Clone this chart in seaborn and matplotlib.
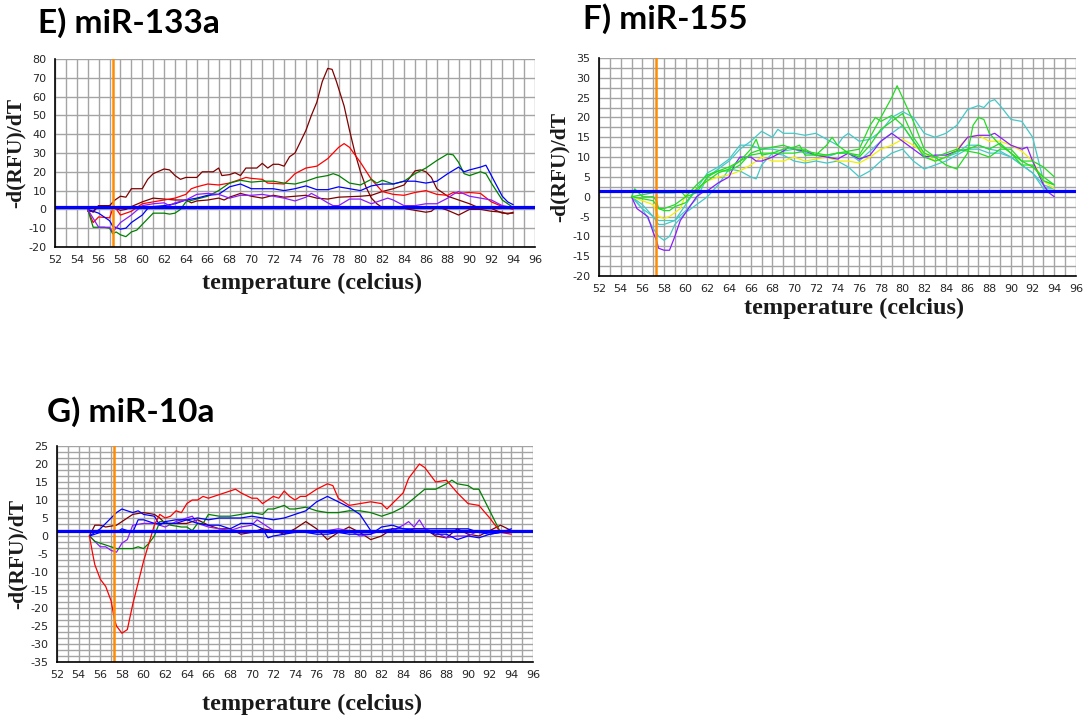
import numpy as np
import pandas as pd
import matplotlib
matplotlib.use("Agg")
import matplotlib.pyplot as plt
from matplotlib.ticker import MultipleLocator
import seaborn as sns

sns.set_style("white")
plt.rcParams["font.family"] = ["DejaVu Sans"]
plt.rcParams["axes.unicode_minus"] = False

TEMP_RANGE = (52, 96)
ANNEAL_TEMP = 57.3

# ---- miR-133a melt curves: (temperature, -d(RFU)/dT) ----
E_MAROON_A = [(55, 0), (55.5, -1.5), (56, 2), (57, 2), (57.5, 5), (58, 7), (58.5, 6.5), (59, 11), (60, 11),
              (60.5, 16), (61, 19), (62, 21.5), (62.5, 21), (63, 18), (63.5, 16), (64, 17), (65, 17), (65.5, 20),
              (66.5, 20), (67, 22), (67.3, 18), (68, 18.5), (68.5, 19.5), (69, 18), (69.5, 22), (70.5, 22),
              (71, 24.5), (71.5, 22), (72, 24), (72.5, 24), (73, 23), (73.5, 28), (74, 30), (75, 42), (75.5, 50),
              (76, 57), (76.5, 68), (77, 75), (77.4, 74.5), (77.8, 68), (78.5, 55), (79, 42), (79.5, 30),
              (80, 20), (80.5, 12), (81, 6), (81.5, 3), (82, 1), (83, 1), (83.5, 0.5), (84, 0.5), (85, -0.5),
              (86, -1.5), (86.5, -1), (87, 1.5), (88, -0.5), (89, -3), (90, 0), (91, 0), (92, -1), (93, -1.5),
              (93.5, -2.5), (94, -1.5)]
E_MAROON_B = [(55, -1), (55.5, -1), (56, 2), (57, 2), (57.5, 0.5), (58, -0.5), (58.5, 0), (59, 1.5), (60, 4),
              (60.5, 5), (61, 6), (62, 5.5), (63, 5), (64, 5), (64.5, 3.5), (65, 4.5), (66, 5), (67, 6),
              (67.5, 5), (68, 6.5), (69, 8.5), (70, 7), (71, 6), (72, 7.5), (73, 6.5), (74, 7), (75, 7.5),
              (76, 6), (77, 5.5), (78, 6.5), (80, 7), (81, 7.5), (82, 9.5), (83, 11), (84, 13), (85, 20.5),
              (85.5, 21), (86, 20), (86.5, 17), (87, 11), (88, 7), (89, 5), (90, 3), (91, 0.5), (92, 0.5),
              (93, -2), (94, -2)]
E_RED = [(55, 0), (55.5, -7), (56, -4), (57, -4.5), (57.4, 2), (58, -3), (59, -1), (60, 3), (61, 4), (62, 5),
         (63, 6), (64, 8), (64.5, 11), (65, 12), (66, 13.5), (67, 13), (68, 14), (69, 16), (69.5, 17),
         (70, 16.5), (71, 16), (71.5, 14), (73, 13.5), (73.5, 16), (74, 19), (75, 22), (76, 23), (77, 27),
         (78, 33), (78.5, 35), (79, 33), (80, 25), (81, 16), (82, 9.5), (83, 8), (84, 7.5), (85, 9), (86, 10),
         (86.5, 9), (87, 8), (88, 7.5), (88.5, 9), (89, 8.5), (90, 9), (91, 8.5), (92, 4), (93, 1.5), (94, 0)]
E_GREEN = [(55, 0), (55.5, -9.5), (56.5, -9.5), (57, -10), (57.3, -13), (57.6, -12), (58, -13.5), (58.5, -14.5),
           (59, -12), (59.5, -11), (60, -8), (60.5, -5), (61, -2), (62, -2), (62.5, -2.5), (63, -2), (63.5, 0),
           (64, 4), (65, 5.5), (66, 7), (67, 10), (68, 14), (69, 15.5), (70, 14.5), (71, 15), (72, 15),
           (73, 14), (74, 13.5), (75, 15), (76, 17), (77, 18), (77.5, 19), (78, 18), (79, 14), (80, 13),
           (80.5, 14.5), (81, 16), (81.5, 14), (82, 15.5), (83, 13.5), (84, 15), (85, 19), (86, 22), (87, 26),
           (88, 29.5), (88.5, 29), (89, 25), (89.5, 19), (90, 18), (91, 20), (91.5, 19), (92, 14), (93, 5),
           (94, 1)]
E_BLUE = [(55, 0), (56, -2), (57, -6), (57.3, -9), (58, -10.5), (58.5, -10), (59, -7), (60, -3), (60.5, 0.5),
          (61, 1.5), (62, 2), (63, 3), (64, 5), (65, 6), (66, 7.5), (67, 8), (68, 12), (69, 13.5), (70, 11),
          (72, 11), (73, 10), (74, 11), (75, 12.5), (76, 10.5), (77, 10.5), (78, 12), (79, 11), (80, 10),
          (81, 12.5), (82, 13.5), (83, 13.5), (84, 15), (85, 15), (86, 14), (87, 15), (88, 19), (89, 22.5),
          (89.5, 20), (90, 21), (91, 22.5), (91.5, 23.5), (92, 18), (93, 7), (93.5, 4), (94, 2.5)]
E_PURPLE = [(55, 0), (56, -9.5), (57, -9.5), (57.3, -12), (58, -7), (59, -3), (60, 2), (61, 3), (62, 3.5),
            (62.5, 2), (63, 3.5), (64, 5), (65, 8), (66, 8.5), (67, 8), (68, 6), (69, 7.5), (70, 7.5), (71, 8),
            (72, 7), (73, 6), (74, 4.5), (75, 6.5), (75.5, 8.5), (76, 7), (77, 3.5), (77.5, 2), (78, 2),
            (79, 5.5), (80, 5.5), (81, 3), (82, 5), (82.5, 6), (83, 5), (84, 2), (85, 2), (86, 3), (87, 3),
            (88, 6), (88.5, 8), (89, 9.5), (90, 7), (91, 6), (92, 5), (93, 2), (94, 1)]

# ---- miR-155 melt curves ----
F_PURPLE = [(55, 0), (55.5, -3), (56, -4), (56.5, -5), (57, -9), (57.3, -11), (57.5, -13), (58, -13.5),
            (58.5, -13.5), (59, -10), (59.5, -6), (60, -4), (60.5, -2), (61, 0), (61.5, 1), (62, 1.5),
            (63, 3.5), (64, 5), (64.5, 8), (65, 10), (66, 10), (66.5, 9), (67, 9), (68, 10), (69, 11.5),
            (69.5, 12.5), (70, 12), (71, 11.5), (72, 10.5), (73, 10), (74, 9.5), (75, 11), (76, 9.5),
            (77, 10.5), (78, 14), (79, 16), (80, 14), (81, 12), (82, 10), (83, 10.5), (84, 10.5), (85, 11.5),
            (86, 15), (87, 15.5), (88, 15.5), (88.5, 16), (89, 15), (89.5, 14), (90, 13), (91, 12),
            (91.5, 12.5), (92, 9), (93, 3), (93.5, 1), (94, 0)]
F_YELLOW = [(55, 0), (56, -1), (57, -2), (57.5, -5), (58, -5.5), (58.5, -5), (59, -4), (59.5, -3), (60, 0.5),
            (61, 2), (62, 4), (63, 5), (64, 5.5), (65, 6.5), (66, 8), (67, 10), (68, 9), (69, 9), (70, 10),
            (71, 9), (72, 9.5), (73, 10), (74, 9), (75, 9), (76, 8.5), (77, 10), (78, 12), (79, 13),
            (80, 14.5), (81, 13), (82, 11), (83, 9), (84, 10), (85, 12), (86, 15), (87, 15.5), (88, 14),
            (89, 14), (90, 13), (91, 11.5), (92, 9), (93, 4), (94, 2)]
F_CYAN_A = [(55, 0), (56, -2), (57, -5), (57.5, -6), (59, -6), (60, -3.5), (61, -0.5), (62, 5), (63, 7),
            (64, 9), (65, 12), (66, 14), (67, 16.5), (68, 15), (68.5, 17), (69, 16), (70, 16), (71, 15.5),
            (72, 16), (73, 14.5), (74, 13), (74.5, 15), (75, 16), (76, 14), (77, 14.5), (78, 16.5), (79, 20),
            (80, 21.5), (81, 20), (82, 16), (83, 15), (84, 16), (85, 18), (86, 22), (87, 23), (87.5, 22.5),
            (88, 24), (88.5, 24.5), (89, 23), (90, 19.5), (91, 19), (92, 15), (93, 4), (94, 3)]
F_CYAN_B = [(55, 0), (56, -3), (57, -8), (57.5, -10), (58, -11), (58.5, -10), (59, -7), (60, -4), (61, -2),
            (62, 0), (63, 3), (64, 7), (65, 6.5), (66, 5), (66.5, 4.5), (67, 8), (68, 11), (69, 10.5), (70, 9),
            (71, 8.5), (72, 9), (73, 8.5), (74, 9), (75, 7.5), (76, 5), (77, 6.5), (78, 9), (79, 11), (80, 12),
            (81, 9), (82, 7), (83, 8), (84, 9), (85, 10.5), (86, 12), (87, 12), (88, 11), (89, 11), (90, 10),
            (91, 8), (92, 6), (93, 2), (94, 2)]
F_CYAN_C = [(55, 0), (56, -3), (57, -5), (57.5, -7), (58, -7), (59, -6), (60, -2), (61, 2), (62, 6), (63, 7.5),
            (64, 9.5), (65, 13), (66, 13), (67, 12), (68, 12), (69, 11.5), (70, 12), (71, 11), (72, 10.5),
            (73, 10), (74, 11), (75, 11), (76, 9), (77, 11.5), (78, 14), (79, 16), (80, 18), (81, 14),
            (82, 10.5), (83, 9), (84, 10), (85, 11), (86, 13), (87, 13), (88, 12), (89, 11.5), (90, 10), (91, 8),
            (92, 6), (93, 3), (94, 2)]
F_GREEN_A = [(55, 0), (55.3, 2), (56, 0), (57, 0), (57.3, -1), (57.5, -3), (58, -3.5), (58.5, -3.5), (59, -2.5),
             (60, -1.5), (61, 2), (62, 4), (63, 6), (64, 7), (65, 9), (66, 12), (66.5, 14.5), (67, 10.5),
             (68, 11), (69, 12), (70, 12.5), (70.5, 13), (71, 10.5), (72, 10.5), (73, 13), (73.5, 15), (74, 13),
             (75, 11), (76, 10.5), (77, 15), (78, 20), (79, 25), (79.5, 28), (80, 25), (81, 19), (82, 12),
             (83, 10), (84, 8), (85, 7), (86, 11), (86.5, 18), (87, 20), (87.5, 19.5), (88, 16), (89, 13),
             (90, 11), (91, 9), (92, 9), (93, 7.5), (94, 5)]
F_GREEN_B = [(55, 0), (56, 0.5), (57, 1), (58, 1), (59, 1), (59.5, 1.5), (60, 0), (61, 3), (62, 5.5), (63, 6.5),
             (64, 6.5), (65, 8), (66, 11), (67, 12), (68, 12.5), (69, 13), (70, 12), (71, 12), (72, 10.5),
             (73, 10.5), (74, 11), (75, 11.5), (76, 12), (77, 18), (77.5, 20), (78, 19), (79, 20.5), (80, 18),
             (81, 14), (82, 10), (83, 9), (84, 10), (85, 11.5), (86, 12), (87, 13), (88, 12), (89, 13.5),
             (90, 11), (91, 8), (92, 8), (93, 4), (94, 3)]
F_GREEN_C = [(55, 0), (56, -0.5), (57, -1), (57.5, -3), (58, -3), (59, -2), (60, 0), (61, 1), (62, 5), (63, 6.5),
             (64, 7.5), (65, 9), (66, 10.5), (67, 11), (68, 11), (69, 11), (70, 11), (71, 11.5), (72, 11),
             (73, 10.5), (74, 11), (75, 11), (76, 10), (77, 13), (78, 17), (79, 19), (80, 21), (81, 15), (82, 11),
             (83, 10), (84, 11), (85, 12), (86, 11.5), (87, 11), (88, 10), (89, 12), (90, 12), (91, 9),
             (92, 7.5), (93, 5), (94, 3)]

# ---- miR-10a melt curves ----
G_RED = [(55, 0), (55.3, -5), (55.5, -8), (56, -12), (56.5, -14), (57, -18), (57.3, -23), (57.5, -25), (58, -27),
         (58.5, -26), (59, -19), (59.5, -13), (60, -7), (60.5, -2), (61, 3), (61.5, 6), (62, 5), (62.5, 5.5),
         (63, 7), (63.5, 6.5), (64, 9), (64.5, 10), (65, 10), (65.5, 11), (66, 10.5), (67, 11.5), (68, 12.5),
         (68.5, 13), (69, 12), (70, 10.5), (70.5, 10.5), (71, 9), (71.5, 10), (72, 11), (72.5, 10.5),
         (73, 12.5), (73.5, 11), (74, 10), (74.5, 11), (75, 11), (76, 13), (77, 14.5), (77.5, 14), (78, 10.5),
         (79, 8.5), (80, 9), (81, 9.5), (82, 9), (82.5, 7.5), (83, 9), (84, 12), (84.5, 16), (85.5, 20),
         (86, 19), (87, 15), (88, 15.5), (89, 12), (90, 9), (91, 8.5), (92, 5), (93, 1), (94, 0.5)]
G_GREEN = [(55, 0), (55.5, -1.5), (56, -2), (57, -3), (57.5, -3.5), (59, -3.5), (59.5, -3), (60, -3.5),
           (60.5, -2), (61, 0), (61.5, 4), (62, 4), (62.5, 3), (63.5, 2.5), (64, 2.5), (64.5, 1.5), (65, 3.5),
           (65.5, 3.5), (66, 6), (67, 5.5), (68, 5.5), (69, 6), (70, 6.5), (71, 6), (71.5, 7.5), (72, 7.5),
           (73, 8.5), (73.5, 7.5), (74, 7.5), (75, 8), (76, 7), (77, 6.5), (78, 6.5), (79, 7), (80, 7),
           (81, 6.5), (82, 5.5), (83, 6.5), (84, 8), (85, 10.5), (86, 13), (87, 13), (88, 14.5), (88.5, 15.5),
           (89, 14.5), (90, 14), (90.5, 13), (91, 13), (92, 7), (93, 1), (94, 1)]
G_BLUE_A = [(55, 0), (56, 2), (57, 5), (57.5, 6.5), (58, 7.5), (59, 6.5), (59.5, 7), (60, 6), (61, 5.5),
            (61.5, 3), (62, 4), (63, 4.5), (64, 4.5), (65, 5), (66, 4.5), (67, 5), (68, 5), (69, 5), (70, 5.5),
            (71, 5), (72, 4.5), (73, 5), (74, 6), (75, 7), (76, 9.5), (77, 11), (78, 9.5), (79, 8), (80, 6),
            (81, 1.5), (82, 1.5), (83, 2), (84, 2), (85, 2), (86, 2), (87, 2), (88, 2), (89, 2), (90, 2),
            (91, 1), (92, 0.5), (93, 1), (94, 1.5)]
G_BLUE_B = [(55, 0), (56, 1), (57.5, 1), (58, 2), (59, 1), (59.5, 4.5), (60, 4.5), (61, 3.5), (62, 3.5),
            (63, 3.5), (64, 4.5), (65, 3.5), (66, 3), (67, 3), (68, 2), (69, 3.5), (70, 3.5), (71, 2),
            (71.5, -0.5), (72, 0), (73, 0.5), (74, 1), (75, 1), (76, 0.5), (77, 0.5), (78, 1), (79, 0.5),
            (81, 0.5), (82, 2.5), (83, 3), (84, 2), (85, 1.5), (86, 1.5), (87, 0.5), (88, 0.5), (89, -1),
            (90, 0), (91, -0.5), (92, 0.5), (93, 1), (94, 2)]
G_MAROON = [(55, 0), (55.5, 3), (56, 3), (56.5, 2.5), (57.5, 3), (58, 4), (59, 6), (60, 6.5), (61, 6),
            (61.5, 5), (62, 3.5), (64, 3.5), (65, 4.5), (66, 3), (67, 2), (68, 2), (69, 0.5), (70, 1), (71, 2),
            (72, 1.5), (73, 0.5), (74, 2), (75, 4), (76, 2), (77, -1), (78, 1), (79, 2.5), (80, 1), (81, -1),
            (82, 0), (83, 2), (84, 1), (85, 2), (86, 2), (87, 0), (88, -0.5), (89, 2), (90, 0.5), (91, 0),
            (92, 1.5), (93, 3), (94, 1.5)]
G_PURPLE = [(55, 0), (56, -3), (56.5, -3), (57, -4), (57.5, -4.5), (58, -2), (58.5, -1), (59, 3), (60, 3.5),
            (61, 3.5), (62, 2.5), (63, 4), (64, 5), (64.5, 5.5), (65, 3.5), (66, 2.5), (67, 2), (68, 1.5),
            (69, 2.5), (70, 3), (70.5, 4.5), (71, 3.5), (72, 1.5), (75, 1.5), (76, 1), (77, 1.5), (78, 2),
            (79, 1.5), (80, 0), (81, 0.5), (82, 1.5), (83, 1.5), (84, 3), (84.5, 4), (85, 2.5), (85.5, 4.5),
            (86, 2), (87, 1), (88, -0.5), (89, 0), (90, 0), (91, 1.5), (92, 1), (93, 1), (94, 1)]

MAROON, RED, GREEN, BLUE, VIOLET = "#800000", "#FF0000", "#008000", "#0000FF", "#8A1CFF"
CYAN, LIME, YELLOW = "#45C8C8", "#22DD22", "#F2F000"

PANELS = [
    dict(title="E) miR-133a", rect=(55, 59, 535, 247), title_xy=(38, 23), ylim=(-20, 80),
         major=10, grid_step=10, minor_step=10, threshold=1.2, xlabel_y=-0.135,
         curves={"maroon_a": (E_MAROON_A, MAROON), "maroon_b": (E_MAROON_B, MAROON),
                 "red": (E_RED, RED), "green": (E_GREEN, GREEN),
                 "blue": (E_BLUE, BLUE), "purple": (E_PURPLE, VIOLET)}),
    dict(title="F) miR-155", rect=(599, 58, 1076, 276), title_xy=(583, 19), ylim=(-20, 35),
         major=5, grid_step=2.5, minor_step=1.25, threshold=1.4, xlabel_y=-0.1,
         curves={"cyan_a": (F_CYAN_A, CYAN), "cyan_b": (F_CYAN_B, CYAN), "cyan_c": (F_CYAN_C, CYAN),
                 "yellow": (F_YELLOW, YELLOW), "purple": (F_PURPLE, VIOLET),
                 "green_a": (F_GREEN_A, LIME), "green_b": (F_GREEN_B, LIME), "green_c": (F_GREEN_C, LIME)}),
    dict(title="G) miR-10a", rect=(57, 446, 533, 662), title_xy=(47, 412), ylim=(-35, 25),
         major=5, grid_step=5 / 3, minor_step=5 / 3, threshold=1.4, xlabel_y=-0.145,
         curves={"maroon": (G_MAROON, MAROON), "purple": (G_PURPLE, VIOLET), "green": (G_GREEN, GREEN),
                 "blue_a": (G_BLUE_A, BLUE), "blue_b": (G_BLUE_B, BLUE), "red": (G_RED, RED)}),
]

W, H = 1088, 720
YLABEL_GAP_PX = 29  # distance from the left spine to the right edge of the y label
fig = plt.figure(figsize=(W / 100, H / 100), dpi=100, facecolor="white")


def to_frame(curves):
    rows = [(name, t, v) for name, (pts, _) in curves.items() for t, v in pts]
    return pd.DataFrame(rows, columns=["curve", "temperature", "drfu"])


for p in PANELS:
    x0, y0, x1, y1 = p["rect"]
    ax = fig.add_axes((x0 / W, 1 - y1 / H, (x1 - x0) / W, (y1 - y0) / H))
    ax.set_facecolor("white")
    df = to_frame(p["curves"])
    palette = {name: color for name, (_, color) in p["curves"].items()}
    sns.lineplot(data=df, x="temperature", y="drfu", hue="curve", palette=palette,
                 estimator=None, sort=False, legend=False, linewidth=0.9, ax=ax, zorder=3)

    ax.set_xlim(*TEMP_RANGE)
    ax.set_ylim(*p["ylim"])
    ax.xaxis.set_major_locator(MultipleLocator(2))
    ax.xaxis.set_minor_locator(MultipleLocator(1))
    ax.yaxis.set_major_locator(MultipleLocator(p["major"]))
    ax.yaxis.set_minor_locator(MultipleLocator(p["minor_step"]))

    # reference grid: every degree vertically, fixed step horizontally
    ax.grid(which="both", axis="x", color="#a4a4a4", linewidth=1.0, zorder=1)
    lo, hi = p["ylim"]
    for yv in np.arange(lo, hi + 1e-6, p["grid_step"]):
        ax.axhline(yv, color="#a4a4a4", linewidth=1.0, zorder=1)
    ax.set_axisbelow(True)

    # threshold and annealing markers
    ax.axhline(p["threshold"], color="#0000FF", linewidth=2.3, zorder=5)
    ax.axvline(ANNEAL_TEMP, color="#FF8C00", linewidth=1.8, zorder=4)

    for side in ("top", "right"):
        ax.spines[side].set_visible(False)
    for side in ("left", "bottom"):
        ax.spines[side].set_color("black")
        ax.spines[side].set_linewidth(1.2)
        ax.spines[side].set_zorder(6)
    ax.tick_params(which="both", direction="out", length=4, width=1, color="black",
                   labelsize=8, pad=2)

    ax.set_xlabel("temperature (celcius)", family="Liberation Serif", weight="bold",
                  fontsize=17.5, color="#1a1a1a")
    ax.set_ylabel("-d(RFU)/dT", family="Liberation Serif", weight="bold",
                  fontsize=15.5, color="#1a1a1a")
    ax.xaxis.set_label_coords(0.535, p["xlabel_y"])
    ax.yaxis.set_label_coords(-YLABEL_GAP_PX / (x1 - x0), 0.5)

    tx, ty = p["title_xy"]
    fig.text(tx / W, 1 - ty / H, p["title"], family="Lato", weight="bold", fontsize=24,
             ha="left", va="center", color="black")

fig.savefig("out.png", dpi=100, facecolor="white")
